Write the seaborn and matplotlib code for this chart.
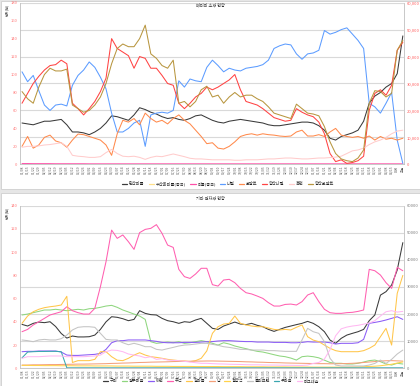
import matplotlib
matplotlib.use("Agg")
import matplotlib.pyplot as plt
from matplotlib.lines import Line2D
from matplotlib.patches import Rectangle
import numpy as np
import pandas as pd
import seaborn as sns

sns.set_theme(style="white")
plt.rcParams["font.family"] = ["Noto Sans CJK KR", "DejaVu Sans"]
plt.rcParams["axes.unicode_minus"] = False

# ---------------- x axis labels ----------------
x_labels = list(pd.date_range("2021-01-08", periods=67, freq="W-FRI").strftime("%m/%d")) + ["어제", "오늘"]

# ---------------- top panel ----------------
top_title = "배터리 소재 현황"
top_names = ["탄산리튬", "수산화리튬(중국)", "리튬(중국)", "니켈", "코발트", "황산니켈", "흑연", "황산코발트"]
top_colors = ["#3a3a3a", "#ffe08a", "#ff4fa8", "#5c9cff", "#ff8a4c", "#ff4343", "#ffcccc", "#b8963f"]

top_black = [46, 45, 44, 46, 48, 48, 49, 50, 44, 36,
             36, 35, 33, 36, 40, 46, 54, 53, 51, 49,
             55, 63, 61, 58, 56, 53, 51, 52, 50, 49,
             51, 54, 55, 52, 49, 47, 46, 48, 49, 50,
             49, 48, 47, 46, 44, 43, 43, 44, 45, 46,
             47, 47, 46, 43, 38, 29, 27, 31, 33, 35,
             38, 48, 68, 76, 80, 86, 90, 101, 143]
top_lightyellow = [0.3, 0.3, 0.3, 0.3, 0.3, 0.3, 0.3, 0.3, 0.3, 0.3,
                   0.3, 0.3, 0.3, 0.3, 0.3, 0.3, 0.3, 0.3, 0.3, 0.3,
                   0.3, 0.3, 0.3, 0.3, 0.3, 0.3, 0.3, 0.3, 0.3, 0.3,
                   0.3, 0.3, 0.3, 0.3, 0.3, 0.3, 0.3, 0.3, 0.3, 0.3,
                   0.3, 0.3, 0.3, 0.3, 0.3, 0.3, 0.3, 0.3, 0.3, 0.3,
                   0.3, 0.3, 0.3, 0.3, 0.3, 0.3, 0.3, 0.3, 0.3, 0.3,
                   0.3, 0.3, 0.3, 0.3, 0.3, 0.3, 0.3, 0.3, 0.3]
top_pink = [0.8, 0.8, 0.7, 0.7, 0.7, 0.7, 0.6, 0.6, 0.6, 0.6,
            0.6, 0.6, 0.5, 0.5, 0.5, 0.5, 0.5, 0.5, 0.5, 0.5,
            0.5, 0.5, 0.5, 0.5, 0.5, 0.5, 0.5, 0.5, 0.5, 0.5,
            0.5, 0.5, 0.5, 0.5, 0.5, 0.5, 0.5, 0.5, 0.5, 0.5,
            0.5, 0.5, 0.5, 0.5, 0.5, 0.5, 0.5, 0.5, 0.5, 0.5,
            0.5, 0.5, 0.5, 0.5, 0.5, 0.5, 0.5, 0.5, 0.5, 0.5,
            0.5, 0.5, 0.5, 0.5, 0.5, 0.5, 0.5, 0.5, 0.5]
top_blue = [103, 92, 99, 82, 66, 60, 66, 67, 65, 88,
            99, 105, 114, 108, 97, 84, 57, 36, 36, 40,
            46, 49, 20, 55, 57, 58, 57, 60, 93, 86,
            95, 93, 92, 108, 116, 110, 103, 107, 105, 104,
            107, 108, 109, 111, 116, 129, 132, 134, 133, 123,
            117, 123, 124, 127, 149, 145, 147, 150, 152, 145,
            138, 129, 68, 64, 57, 68, 80, 27, 1]
top_orange = [20, 31, 18, 21.5, 30, 32.5, 26, 24, 19, 27,
              33.7, 33, 31, 29, 27, 21.5, 10, 34, 49, 47,
              51, 44, 57, 51, 47, 49, 45, 51, 55, 49,
              45, 38, 31, 23, 24, 18, 17, 20, 25, 31,
              33, 34, 32.5, 34, 33, 32.5, 31.5, 31, 31.5, 36,
              38, 31.5, 31.5, 33, 31, 36, 40, 32.5, 31, 30,
              31, 29, 31.5, 27, 31, 28, 29, 27, 29]
top_red = [68, 79, 90, 98, 105, 110, 111, 116, 112, 68,
           62, 55, 62, 70, 81, 96, 140, 129, 125, 121,
           107, 120, 118, 107, 107, 99, 90, 88, 68, 62,
           68, 75, 79, 86, 83, 86, 90, 94, 100, 83,
           70, 68, 66, 62, 57, 52, 50, 48, 49, 62,
           58, 55, 53, 47, 34, 12, 3, 5, 1, 2,
           4, 9, 60, 79, 83, 77, 88, 127, 136]
top_lightpink = [19, 20, 20, 20.5, 21.5, 22, 23, 24, 20, 10,
                 9, 8.5, 7.7, 7.7, 8.5, 13, 16.6, 12, 9, 8.5,
                 9, 7.7, 5.5, 7.7, 9, 8.5, 10, 11.5, 10, 8.5,
                 6.7, 6, 6, 5.5, 5, 5, 5, 5, 4.5, 4.5,
                 5, 5, 5, 5.5, 6, 6, 6.5, 7, 7, 6.5,
                 6, 6, 6.5, 7, 7, 7.5, 8, 9, 12, 15,
                 16, 18, 22, 25, 27, 30, 34, 37, 38]
top_gold = [81, 73, 68, 86, 100, 107, 104, 104, 106, 66,
            62, 58, 60, 66, 75, 90, 112, 129, 134, 131,
            131, 140, 155, 123, 118, 110, 107, 116, 68, 70,
            64, 70, 83, 87, 75, 77, 68, 75, 80, 75,
            77, 77, 73, 70, 64, 57, 55, 53, 51, 67,
            62, 57, 56, 54, 42, 25, 12, 6, 4, 3,
            7, 16, 68, 82, 81, 75, 79, 127, 138]
top_series = [top_black, top_lightyellow, top_pink, top_blue, top_orange, top_red, top_lightpink, top_gold]

# ---------------- bottom panel ----------------
bot_title = "기타 원자재 현황"
bot_names = ["구리", "알루미늄", "아연", "주석", "팔라듐", "납", "철광석", "몰리브덴", "우라늄", "마그네슘"]
bot_colors = ["#3a3a3a", "#8fd67f", "#8b5cf6", "#ff5fb0", "#ffc64a", "#f4a07a", "#ffd24a", "#c4c4c4", "#3aa6b0", "#ffb8f2"]

bot_black = [37.8, 36.4, 38.7, 39.8, 39.3, 40.1, 36, 30, 26, 27.8,
             27, 27, 27.2, 28.6, 33.5, 40, 44.4, 43.9, 42.7, 41,
             42.1, 49.6, 47.3, 46.2, 45.9, 43, 41, 40.1, 38.7, 40.1,
             39.6, 41.6, 43, 38.7, 34.4, 33.5, 36.4, 38.1, 39.8, 38.1,
             37.6, 38.7, 37, 35.8, 33.5, 31.8, 33.5, 35.2, 36.4, 37.6,
             38.7, 40.4, 38.7, 35.8, 31.5, 24.3, 21.5, 25.8, 28.6, 30.1,
             31.5, 33.5, 41, 45.9, 63, 66, 71.7, 84.6, 108.2]
bot_green = [45.9, 46.7, 47.9, 49, 50.2, 50.2, 50.8, 50.2, 49.6, 50.2,
             50.8, 50.2, 51.3, 51.6, 52.5, 53.6, 54.2, 52.5, 50.2, 48.5,
             46.7, 45, 42.1, 22.9, 21.5, 22, 22.6, 22, 22.9, 21.5,
             22, 22.9, 23.8, 22.9, 21.5, 20, 22, 20.9, 19.2, 18,
             16.9, 15.7, 14.6, 14, 12.9, 11.7, 10.6, 10, 8.8, 7.1,
             10, 10.5, 10, 9, 7, 5, 4.3, 4.3, 3.7, 3.7,
             4.3, 5.4, 6.6, 7.1, 5.7, 3.7, 2.8, 4.3, 3.7]
bot_purple = [14.3, 14.6, 14.6, 14.9, 14.9, 14.9, 14.9, 14, 11.4, 11.1,
              11.1, 11.4, 11.7, 12, 12.9, 16.3, 22, 23.8, 23.8, 24.4,
              24.4, 24.4, 24.4, 23.8, 23.2, 22.3, 22, 22, 22, 22.3,
              22.3, 22.3, 22.6, 22.9, 23, 23.5, 23.8, 23.8, 23.5, 23.2,
              23, 23, 22.6, 22.6, 22.6, 22.3, 22.3, 22.3, 22, 22,
              22.3, 22.9, 22.6, 22.6, 22.6, 22, 20.9, 21.5, 21.5, 21.5,
              22, 24.9, 38.7, 39.5, 40.4, 41.6, 43, 44.4, 42.1]
bot_pink = [31.5, 33.5, 37.3, 40.1, 43, 45.9, 47.3, 48.7, 53, 49.6,
            47.9, 46.7, 46.7, 51.6, 70.3, 91.8, 119, 111.9, 114.8, 109,
            102.4, 116.8, 119.6, 120.5, 123.7, 116.2, 106.1, 104.1, 85.2, 78.9,
            77.4, 81.2, 86.1, 86.1, 72, 70.8, 76, 76.6, 73.7, 68.8,
            65.1, 64, 62.2, 60.2, 56.5, 53.6, 53.6, 55, 55.3, 54.5,
            57.4, 63.1, 65.1, 57.4, 50.8, 47.9, 47.3, 47.3, 47.9, 48.2,
            49, 50.2, 85.2, 84, 80.3, 73.7, 68.8, 86.9, 84]
bot_yellow = [38.7, 45, 48.7, 50.8, 52.2, 53, 53.6, 54.5, 62, 5,
              6.6, 6.6, 6.6, 7.7, 14.3, 14.3, 10, 7, 6.6, 8.6,
              11.4, 13.4, 11.4, 10, 9.4, 8.6, 7.7, 7.1, 6.6, 6.3,
              5.7, 6.6, 8.6, 15, 30.1, 35.8, 38.1, 38.7, 45, 38.7,
              37.3, 36.4, 35.8, 35.8, 34.7, 33.5, 33, 33.5, 33, 35.3,
              37.3, 27.2, 24.3, 22.9, 20, 17.2, 15.2, 14.3, 14.3, 14.3,
              14.3, 15.2, 17.2, 20, 27.2, 34.4, 20, 64.5, 80]
bot_orange = [2.8, 2.8, 3, 3, 3.1, 3.2, 3.2, 3.3, 3.4, 3.5,
              3.6, 3.6, 3.7, 3.8, 3.9, 4, 4.2, 4.3, 4.5, 4.6,
              4.8, 5, 5.1, 5.3, 5.4, 5.5, 5.6, 5.8, 5.9, 6,
              6.1, 6.2, 6.2, 6.3, 6.3, 6.2, 6.1, 6, 5.9, 5.8,
              5.6, 5.5, 5.3, 5.2, 5, 4.9, 4.8, 4.6, 4.5, 4.4,
              4.3, 4.2, 4.1, 4, 4, 3.9, 3.9, 4, 4.1, 4.3,
              4.6, 5, 5.4, 5.8, 6.2, 6.5, 6.6, 6.4, 6.2]
bot_gold = [2.5, 2.5, 2.4, 2.4, 2.3, 2.3, 2.3, 2.2, 2.2, 2.2,
            2.1, 2.1, 2.1, 2, 2, 2, 2, 1.9, 1.9, 1.9,
            1.8, 1.8, 1.8, 1.8, 1.7, 1.7, 1.7, 1.6, 1.6, 1.6,
            1.6, 1.5, 1.5, 1.5, 1.5, 1.5, 1.4, 1.4, 1.4, 1.4,
            1.3, 1.3, 1.3, 1.3, 1.2, 1.2, 1.2, 1.2, 1.1, 1.1,
            1.1, 1.1, 1, 1, 1, 1, 1, 1, 1, 1.1,
            1.2, 1.4, 1.6, 1.8, 2.2, 2.8, 3.5, 4.5, 5.5]
bot_grey = [24.4, 23.8, 22.9, 24.4, 24.9, 24.4, 24.4, 25.5, 28.6, 33,
            35.3, 35.8, 35.8, 35.3, 30.1, 24.9, 24.4, 24.4, 22, 20.3,
            21.5, 20.3, 18.6, 18.6, 16.3, 15.7, 16.9, 18, 19.2, 20,
            20.3, 20.9, 21.5, 21.5, 20.6, 19.8, 18.6, 18, 17.2, 16.3,
            16.3, 15.7, 15.7, 15.7, 15.2, 15.2, 14.9, 14.6, 14.6, 14.6,
            24.4, 34.4, 31.5, 30.1, 22.9, 8.6, 2.8, 2, 2, 2,
            2, 2, 2.8, 4.2, 7.1, 4.2, 7.7, 12.3, 15.7]
bot_teal = [9, 14, 14.3, 14.5, 14.5, 14.6, 14.6, 14.3, 0.4, 0.4,
            0.4, 0.4, 0.4, 0.4, 0.4, 0.4, 0.4, 0.4, 0.4, 0.4,
            0.4, 0.4, 0.4, 0.4, 0.4, 0.4, 0.4, 0.4, 0.4, 0.4,
            0.4, 0.4, 0.4, 0.4, 0.4, 0.4, 0.4, 0.4, 0.4, 0.4,
            0.4, 0.4, 0.4, 0.4, 0.4, 0.4, 0.4, 0.4, 0.4, 0.4,
            0.4, 0.4, 0.4, 0.4, 0.4, 0.4, 0.4, 0.4, 0.4, 0.4,
            0.4, 0.4, 0.4, 0.4, 0.4, 0.4, 0.4, 0.4, 0.4]
bot_lightpink = [8.6, 10, 10, 10, 10.3, 10.6, 10.6, 10.6, 10, 10,
                 10, 10, 10.3, 10.6, 11.4, 14.3, 15.7, 15.4, 14.3, 12.3,
                 11.4, 10.6, 9.1, 10, 7.7, 8.3, 7.1, 6.8, 6.6, 6,
                 5.4, 4.8, 4.3, 4.3, 4, 3.8, 3.7, 3.5, 3.4, 3.3,
                 3.1, 3, 3, 2.9, 2.8, 2.8, 2.7, 2.6, 2.6, 2.5,
                 2.5, 2.8, 4.2, 5, 8, 16, 28, 34, 35.5, 36.4,
                 37, 38, 39, 41, 45, 48.7, 49.6, 48.4, 49]
bot_series = [bot_black, bot_green, bot_purple, bot_pink, bot_yellow,
              bot_orange, bot_gold, bot_grey, bot_teal, bot_lightpink]

# ---------------- figure ----------------
W, H = 420, 386
fig = plt.figure(figsize=(W / 100, H / 100), dpi=100, facecolor="#e6e6e6")


def card(y0, y1):
    fig.patches.append(Rectangle((0.5 / W, 1 - y1 / H), 1 - 1.0 / W, (y1 - y0) / H,
                                 transform=fig.transFigure, fc="white", ec="#cfcfcf",
                                 lw=0.6, zorder=-5))


card(0.5, 189)
card(193, 385.5)


def panel(top_px, bot_px, names, colors, series, left_max, right_comma,
          right_color, title, title_y, legend_cx, legend_y):
    ax = fig.add_axes([20 / W, 1 - bot_px / H, 384 / W, (bot_px - top_px) / H])
    ax2 = ax.twinx()
    ax.set_zorder(ax2.get_zorder() + 1)
    ax.patch.set_visible(False)

    df = pd.DataFrame({n: s for n, s in zip(names, series)})
    df["idx"] = np.arange(len(x_labels))
    long = df.melt(id_vars="idx", var_name="series", value_name="value")
    sns.lineplot(data=long, x="idx", y="value", hue="series", hue_order=names,
                 palette=dict(zip(names, colors)), ax=ax, linewidth=0.75,
                 legend=False, errorbar=None, zorder=3)

    ax.set_xlim(-0.36, len(x_labels) - 1 + 0.21)
    ax.set_ylim(0, left_max)
    ax.set_yticks(range(0, left_max + 1, 20))
    ax.set_xticks(range(len(x_labels)))
    ax.set_xticklabels(x_labels, rotation=90, fontsize=2.4, color="#5a5a5a")
    ax.tick_params(axis="y", labelsize=3, labelcolor="#ff7b7b", length=0, pad=2)
    ax.tick_params(axis="x", length=0, pad=1)
    ax.set_xlabel("")
    ax.set_ylabel("")
    ax.grid(False)

    ax2.set_ylim(0, 60000)
    ax2.set_yticks(range(0, 60001, 10000))
    if right_comma:
        ax2.set_yticklabels([f"{v:,}" for v in range(0, 60001, 10000)])
    ax2.tick_params(axis="y", labelsize=3, labelcolor=right_color, length=0, pad=2)
    ax2.grid(axis="y", color="#d9d9d9", lw=0.8)
    ax2.grid(axis="x", visible=False)

    for a in (ax, ax2):
        for s in a.spines.values():
            s.set_visible(False)
    ax.spines["left"].set_visible(True)
    ax.spines["bottom"].set_visible(True)
    ax2.spines["right"].set_visible(True)
    for s in (ax.spines["left"], ax.spines["bottom"], ax2.spines["right"]):
        s.set_color("#bfbfbf")
        s.set_linewidth(0.6)

    fig.text(210 / W, 1 - title_y / H, title, ha="center", va="center",
             fontsize=3, color="#333333")
    fig.text(7 / W, 1 - (top_px + 7) / H, "단위(천)", rotation=90, ha="center",
             va="center", fontsize=2.5, color="#444444")

    handles = [Line2D([], [], color=c, lw=0.9) for c in colors]
    fig.legend(handles, names, loc="center", bbox_to_anchor=(legend_cx / W, 1 - legend_y / H),
               ncol=len(names), fontsize=3, frameon=False, handlelength=1.3,
               handletextpad=0.4, columnspacing=1.0, borderpad=0, borderaxespad=0)
    return ax


panel(2.7, 164.3, top_names, top_colors, top_series, 180, True, "#ff5a5a",
      top_title, 5.5, 228, 184)
panel(205.7, 368.3, bot_names, bot_colors, bot_series, 140, False, "#7a7a7a",
      bot_title, 198.5, 211, 381)

fig.savefig("out.png", dpi=100, facecolor=fig.get_facecolor())
